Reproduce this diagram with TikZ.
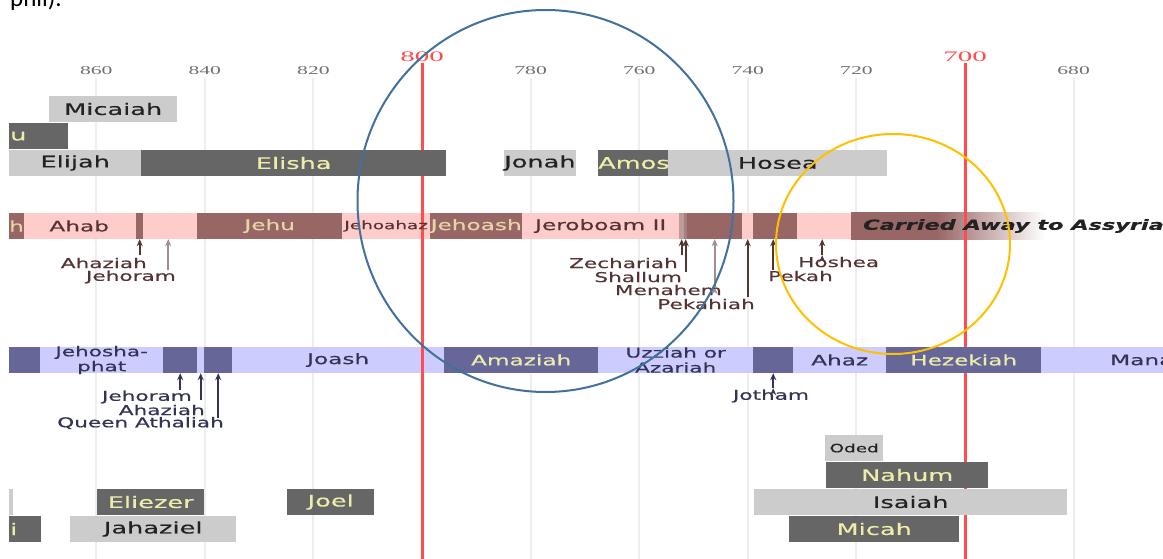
\documentclass[tikz,border=0pt]{standalone}
\usepackage{fontspec}
\usetikzlibrary{arrows.meta}
\newfontfamily\tlfont[FakeStretch=1.6,FakeBold=0.4]{DejaVu Sans}
\newfontfamily\tickfont[FakeStretch=1.8]{Liberation Serif}
\newfontfamily\redtickfont[FakeStretch=2.0]{Liberation Serif}
\newfontfamily\docfont{Carlito}
\definecolor{isrdark}{HTML}{996666}
\definecolor{isrlight}{HTML}{FFCCCC}
\definecolor{isrtext}{HTML}{553333}
\definecolor{isrpale}{HTML}{E6D6A6}
\definecolor{juddark}{HTML}{666699}
\definecolor{judlight}{HTML}{CCCCFF}
\definecolor{judtext}{HTML}{333355}
\definecolor{boxdark}{HTML}{666666}
\definecolor{boxlight}{HTML}{CCCCCC}
\definecolor{boxtext}{HTML}{222222}
\definecolor{pale}{HTML}{EEEEAA}
\definecolor{redln}{HTML}{FF4D4D}
\definecolor{gridgray}{HTML}{EEEEEE}
\definecolor{ticktext}{HTML}{707070}
\definecolor{circblue}{HTML}{41719C}
\definecolor{circgold}{HTML}{FFC000}
\pgfdeclarehorizontalshading{exilefade}{100bp}{color(0bp)=(isrdark); color(25bp)=(isrdark); color(47bp)=(isrdark); color(75bp)=(white); color(100bp)=(white)}
\begin{document}
\begin{tikzpicture}[x=1pt,y=-1pt,>={Stealth[length=7pt,width=6pt]}]
	\tikzstyle{seg} = [rectangle,anchor=west,inner sep=0pt,minimum height=26pt,font=\tlfont\fontsize{14.5}{15}\selectfont]
	\tikzstyle{prophet} = [seg,font=\tlfont\fontsize{16}{18}\selectfont]
	\tikzstyle{lbl} = [inner sep=0pt,font=\tlfont\fontsize{13.5}{14}\selectfont]
	\tikzstyle{gridln} = [draw=gridgray,line width=2pt]
	\tikzstyle{redmark} = [draw=redln,line width=3pt]
	\tikzstyle{yrlbl} = [text=ticktext,font=\tickfont\fontsize{12}{12}\selectfont]
	\tikzstyle{redyr} = [text=redln,font=\redtickfont\fontsize{14.5}{15}\selectfont]
	\tikzstyle{arrI} = [->,draw=isrtext,line width=1.6pt]
	\tikzstyle{arrJ} = [->,draw=judtext,line width=1.6pt]
	\clip (0,0) rectangle (1163,559);
	\fill[white] (0,0) rectangle (1163,559);
	\node[anchor=base west,inner sep=0pt,font=\docfont\fontsize{25}{29}\selectfont](doc)at (10,7){phil).};
	\foreach \yr in {860,840,820,780,760,740,720,680}{
		\draw[gridln] ({422-(\yr-800)*5.43},78) -- ({422-(\yr-800)*5.43},559);
		\node[yrlbl](t\yr)at ({422-(\yr-800)*5.43},71){\yr};
	}
	\fill[isrlight] (9,213) rectangle (851,239);
	\fill[judlight] (9,347) rectangle (1163,373);
	\node[seg,shade,shading=exilefade,minimum width=194pt](exile)at (851,226){};
	\foreach \yr in {800,700}{
		\draw[redmark] ({422-(\yr-800)*5.43},63) -- ({422-(\yr-800)*5.43},559);
		\node[redyr](t\yr)at ({422-(\yr-800)*5.43},57){\yr};
	}
	\node[seg,fill=isrdark,minimum width=13pt,text=isrpale](isr0)at (9,226){h};
	\node[seg,minimum width=114pt,text=isrtext](ahab)at (22,226){Ahab};
	\node[seg,fill=isrdark,minimum width=7pt](ahaziah-i)at (136,226){};
	\node[seg,minimum width=54pt](jehoram-i)at (143,226){};
	\node[seg,fill=isrdark,minimum width=145pt,text=isrpale](jehu)at (197,226){Jehu};
	\node[seg,minimum width=88pt,text=isrtext,font=\tlfont\fontsize{11.5}{12}\selectfont](jehoahaz)at (342,226){Jehoahaz};
	\node[seg,fill=isrdark,minimum width=92pt,text=isrpale](jehoash)at (430,226){Jehoash};
	\node[seg,minimum width=157pt,text=isrtext](jeroboam)at (522,226){Jeroboam II};
	\node[seg,fill=isrdark!65,minimum width=5pt](zechariah)at (679,226){};
	\node[seg,fill=isrdark!85,minimum width=3pt](shallum)at (684,226){};
	\node[seg,fill=isrdark,minimum width=55pt](menahem)at (687,226){};
	\node[seg,minimum width=11pt](pekahiah)at (742,226){};
	\node[seg,fill=isrdark,minimum width=44pt](pekah)at (753,226){};
	\node[seg,minimum width=54pt](hoshea)at (797,226){};
	\node[anchor=west,inner sep=0pt,text=boxtext,font=\tlfont\bfseries\itshape\fontsize{14}{15}\selectfont](exile-txt)at (863,226){Carried Away to Assyria};
	\node[seg,fill=juddark,minimum width=31pt](jud0)at (9,360){};
	\node[seg,minimum width=123pt,align=center,text=judtext,font=\tlfont\fontsize{13.5}{15}\selectfont](jehoshaphat)at (40,360){Jehosha-\\phat};
	\node[seg,fill=juddark,minimum width=34pt](jehoram-j)at (163,360){};
	\node[seg,minimum width=7pt](ahaziah-j)at (197,360){};
	\node[seg,fill=juddark,minimum width=28pt](athaliah)at (204,360){};
	\node[seg,minimum width=212pt,text=judtext](joash)at (232,360){Joash};
	\node[seg,fill=juddark,minimum width=154pt,text=pale](amaziah)at (444,360){Amaziah};
	\node[seg,minimum width=155pt,align=center,text=judtext,font=\tlfont\fontsize{13.5}{15}\selectfont](uzziah)at (598,360){Uzziah or\\Azariah};
	\node[seg,fill=juddark,minimum width=40pt](jotham)at (753,360){};
	\node[seg,minimum width=93pt,text=judtext](ahaz)at (793,360){Ahaz};
	\node[seg,fill=juddark,minimum width=155pt,text=pale](hezekiah)at (886,360){Hezekiah};
	\node[seg,text width=122pt,align=left,text=judtext](manasseh)at (1041,360){\hspace*{69pt}Mana};
	\node[prophet,fill=boxlight,minimum width=128pt,text=boxtext](micaiah)at (49,109){Micaiah};
	\node[prophet,fill=boxdark,text width=59pt,align=left,text=pale](pro0)at (9,136){\hspace*{1pt}u};
	\node[prophet,fill=boxlight,minimum width=132pt,text=boxtext](elijah)at (9,163){Elijah};
	\node[prophet,fill=boxdark,minimum width=305pt,text=pale](elisha)at (141,163){Elisha};
	\node[prophet,fill=boxlight,minimum width=71pt,text=boxtext](jonah)at (504,163){Jonah};
	\node[prophet,fill=boxdark,minimum width=70pt,text=pale](amos)at (598,163){Amos};
	\node[prophet,fill=boxlight,minimum width=219pt,text=boxtext](hosea)at (668,163){Hosea};
	\node[prophet,fill=boxlight,minimum width=58pt,text=boxtext,font=\tlfont\fontsize{11.5}{12}\selectfont](oded)at (825,448){Oded};
	\node[prophet,fill=boxdark,minimum width=162pt,text=pale](nahum)at (826,475){Nahum};
	\node[prophet,fill=boxlight,minimum width=313pt,text=boxtext](isaiah)at (754,502){Isaiah};
	\node[prophet,fill=boxdark,minimum width=170pt,text=pale](micah)at (789,529){Micah};
	\node[prophet,fill=boxlight,minimum width=4pt](pro1)at (9,502){};
	\node[prophet,fill=boxdark,text width=32pt,align=left,text=pale](pro2)at (9,529){\hspace*{1pt}i};
	\node[prophet,fill=boxdark,minimum width=107pt,text=pale](eliezer)at (97,502){Eliezer};
	\node[prophet,fill=boxlight,minimum width=166pt,text=boxtext](jahaziel)at (70,529){Jahaziel};
	\node[prophet,fill=boxdark,minimum width=87pt,text=pale](joel)at (287,502){Joel};
	\coordinate (a-ahaziah-i) at ([yshift=-16pt]ahaziah-i.south);
	\coordinate (a-jehoram-i) at ([yshift=-31pt,xshift=-2pt]jehoram-i.south);
	\coordinate (a-zechariah) at ([yshift=-16pt]zechariah.south);
	\coordinate (a-shallum) at ([yshift=-33pt]shallum.south);
	\coordinate (a-menahem) at ([yshift=-48pt]menahem.south);
	\coordinate (a-pekahiah) at ([yshift=-58pt]pekahiah.south);
	\coordinate (a-pekah) at ([yshift=-31pt,xshift=-2pt]pekah.south);
	\coordinate (a-hoshea) at ([yshift=-16pt,xshift=-2pt]hoshea.south);
	\coordinate (a-jehoram-j) at ([yshift=-17pt]jehoram-j.south);
	\coordinate (a-ahaziah-j) at ([yshift=-27pt]ahaziah-j.south);
	\coordinate (a-athaliah) at ([yshift=-45pt]athaliah.south);
	\coordinate (a-jotham) at ([yshift=-15pt]jotham.south);
	\path[arrI] (a-ahaziah-i) edge (ahaziah-i.south)
	(a-zechariah) edge (zechariah.south)
	(a-shallum) edge (shallum.south)
	(a-pekahiah) edge (pekahiah.south)
	(a-pekah) edge ([xshift=-2pt]pekah.south)
	(a-hoshea) edge ([xshift=-2pt]hoshea.south);
	\path[arrI,draw=isrtext!55] (a-jehoram-i) edge ([xshift=-2pt]jehoram-i.south)
	(a-menahem) edge (menahem.south);
	\path[arrJ] (a-jehoram-j) edge (jehoram-j.south)
	(a-ahaziah-j) edge (ahaziah-j.south)
	(a-athaliah) edge (athaliah.south)
	(a-jotham) edge (jotham.south);
	\node[lbl,anchor=east,text=isrtext](l-ahaziah-i)at (147,263){Ahaziah};
	\node[lbl,anchor=east,text=isrtext](l-jehoram-i)at (176,277){Jehoram};
	\node[lbl,anchor=east,text=isrtext](l-zechariah)at (678,263){Zechariah};
	\node[lbl,anchor=east,text=isrtext](l-shallum)at (682,277){Shallum};
	\node[lbl,anchor=east,text=isrtext](l-menahem)at (722,290){Menahem};
	\node[lbl,anchor=east,text=isrtext](l-pekahiah)at (755,304){Pekahiah};
	\node[lbl,anchor=west,text=isrtext](l-pekah)at (768,276){Pekah};
	\node[lbl,anchor=west,text=isrtext](l-hoshea)at (798,262){Hoshea};
	\node[lbl,anchor=east,text=judtext](l-jehoram-j)at (192,397){Jehoram};
	\node[lbl,anchor=east,text=judtext](l-ahaziah-j)at (205,410){Ahaziah};
	\node[lbl,anchor=east,text=judtext](l-athaliah)at (224,423){Queen Athaliah};
	\node[lbl,text=judtext](l-jotham)at (771,396){Jotham};
	\draw[circblue,line width=2pt] (545.5,201) ellipse [x radius=188, y radius=191];
	\draw[circgold,line width=2pt] (893,244) ellipse [x radius=117, y radius=110];
\end{tikzpicture}
\end{document}
